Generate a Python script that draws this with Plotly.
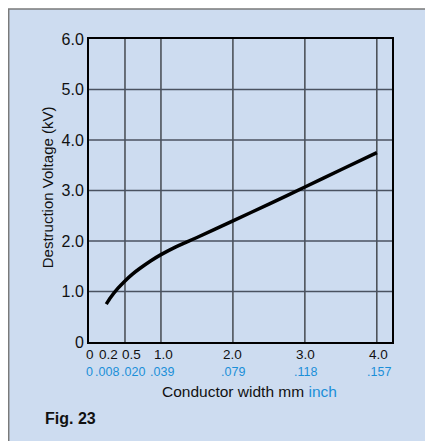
import plotly.graph_objects as go

# curve (mm, kV)
width_mm = [0.24, 0.30, 0.40, 0.50, 0.60, 0.70, 0.85, 1.00, 1.20, 1.50, 2.00, 2.50, 3.00, 3.50, 4.00]
voltage_kv = [0.75, 0.88, 1.06, 1.21, 1.34, 1.45, 1.60, 1.73, 1.88, 2.07, 2.40, 2.73, 3.07, 3.41, 3.75]

mm_ticks = [0, 0.2, 0.5, 1.0, 2.0, 3.0, 4.0]
mm_labels = ['0', '0.2', '0.5', '1.0', '2.0', '3.0', '4.0']
inch_labels = ['0', '.008', '.020', '.039', '.079', '.118', '.157']
mm_shift = [0.6, 5, 7, 2.5, 0, 1, 2]
inch_shift = [0, 4, 8, 1.5, 0, 1, 2]

y_ticks = [0, 1, 2, 3, 4, 5, 6]
y_labels = ['0', '1.0', '2.0', '3.0', '4.0', '5.0', '6.0']

BG = '#cddcf0'
BLUE = '#1b8fd8'
INK = '#111111'
FONT = 'Liberation Sans, Arial, sans-serif'

fig = go.Figure()

# light blue panel behind everything
fig.add_shape(type='rect', xref='paper', yref='paper', x0=-0.265, x1=1.4, y0=-0.5, y1=1.099,
              fillcolor=BG, line=dict(color='#7a7a7a', width=1.5), layer='below')

# vertical grid lines (black) and horizontal (dark gray)
for v in [0.5, 1, 2, 3, 4]:
    fig.add_shape(type='line', xref='x', yref='paper', x0=v, x1=v, y0=0, y1=1,
                  line=dict(color='black', width=1), layer='below')
for h in [1, 2, 3, 4, 5]:
    fig.add_shape(type='line', xref='paper', yref='y', x0=0, x1=1, y0=h, y1=h,
                  line=dict(color='#4a5260', width=1.5), layer='below')

fig.add_trace(go.Scatter(x=width_mm, y=voltage_kv, mode='lines',
                         line=dict(color='black', width=3.5, shape='spline', smoothing=0.5),
                         hoverinfo='skip', showlegend=False))

# x labels: mm row and inch row
for v, mm, dx in zip(mm_ticks, mm_labels, mm_shift):
    fig.add_annotation(x=v, y=0, xref='x', yref='y', text=mm, showarrow=False,
                       xanchor='center', yanchor='middle', xshift=dx, yshift=-12,
                       font=dict(size=13.5, color=INK, family=FONT))
for v, inch, dx in zip(mm_ticks, inch_labels, inch_shift):
    fig.add_annotation(x=v, y=0, xref='x', yref='y', text=inch, showarrow=False,
                       xanchor='center', yanchor='middle', xshift=dx, yshift=-30,
                       font=dict(size=12.5, color=BLUE, family=FONT))

fig.add_annotation(x=0.531, y=-0.164, xref='paper', yref='paper', showarrow=False,
                   xanchor='center', yanchor='middle',
                   text="Conductor width mm <span style='color:%s'>inch</span>" % BLUE,
                   font=dict(size=15.5, color=INK, family=FONT))
fig.add_annotation(x=-0.152, y=-0.254, xref='paper', yref='paper', showarrow=False,
                   xanchor='left', yanchor='middle', text='<b>Fig. 23</b>',
                   font=dict(size=16, color=INK, family=FONT))
fig.add_annotation(x=-0.136, y=0.51, xref='paper', yref='paper', showarrow=False,
                   xanchor='center', yanchor='middle',
                   textangle=-90, text='Destruction Voltage (kV)',
                   font=dict(size=15, color=INK, family=FONT))

fig.update_xaxes(range=[0, 4.21], showgrid=False, zeroline=False, showticklabels=False,
                 showline=True, linecolor='black', linewidth=2, mirror=True, ticks='')
fig.update_yaxes(range=[0, 6], tickvals=y_ticks, ticktext=y_labels, showgrid=False,
                 zeroline=False, showline=True, linecolor='black', linewidth=2, mirror=True,
                 ticks='', tickfont=dict(size=16, color=INK, family=FONT))

# page body adds an 8px margin, so the plot area is placed 8px up/left of the target
fig.update_layout(width=433, height=441, margin=dict(l=81, r=49, t=31, b=107),
                  paper_bgcolor='white', plot_bgcolor='rgba(0,0,0,0)',
                  font=dict(family=FONT))

fig.write_html("out.html")
